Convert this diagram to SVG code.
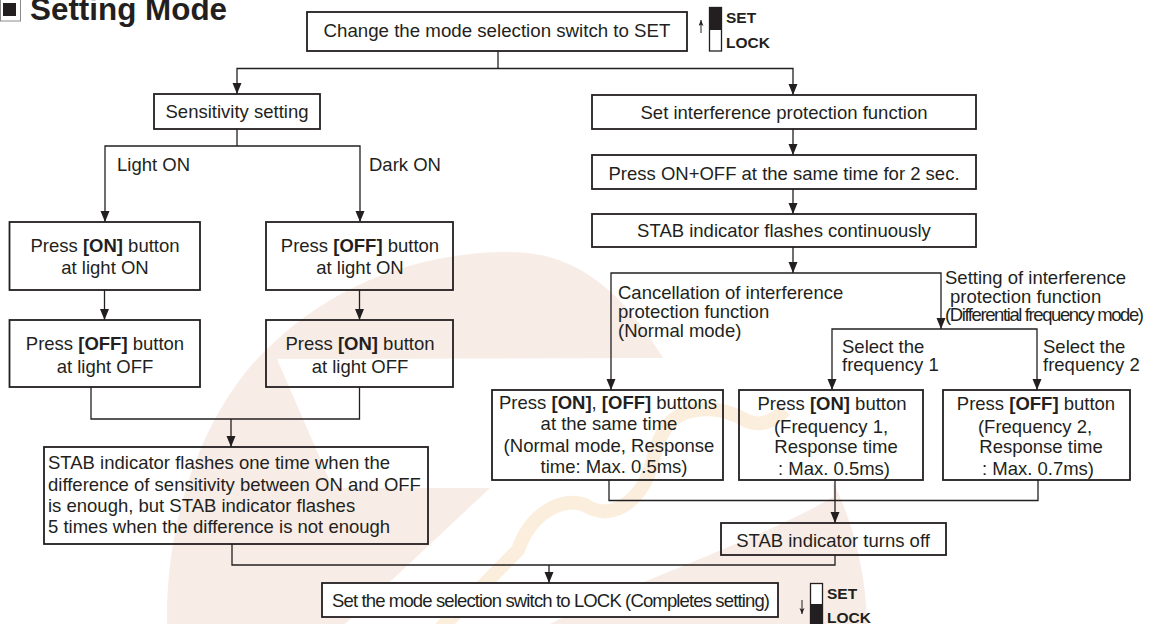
<svg xmlns="http://www.w3.org/2000/svg" width="1154" height="624" viewBox="0 0 1154 624">
<style>
text{font-family:"Liberation Sans",Arial,sans-serif;font-size:18.5px;fill:#231f20}
.c{text-anchor:middle}
.b{font-weight:bold}
.sw{font-weight:bold;font-size:15.5px}
.box{fill:none;stroke:#231f20;stroke-width:1.8}
.wh{fill:#fff}
.k{fill:none;stroke:#231f20;stroke-width:1.3}
.t{fill:none;stroke:#231f20;stroke-width:1}
.w{fill:#f8ece6;stroke:none}
</style>
<defs>
<marker id="a" markerUnits="userSpaceOnUse" markerWidth="12" markerHeight="10" refX="11" refY="4.500" orient="auto"><path d="M0,0L11,4.500L0,9Z" fill="#231f20"/></marker>
<marker id="s" markerUnits="userSpaceOnUse" markerWidth="7" markerHeight="6" refX="6" refY="2.500" orient="auto"><path d="M0,0L6,2.500L0,5L1.500,2.500Z" fill="#231f20"/></marker>
</defs>
<rect width="1154" height="624" fill="#fff"/>
<g id="watermark">
<path class="w" d="M167,624C165,500 215,400 263,353C320,295 400,255 500,252C560,250 610,272 663,358L277,359L333,488L490,488L345,624Z"/>
<path class="w" d="M833,482C852,520 866,570 867,624L550,624C640,580 770,535 833,497Z"/>
<path d="M437,632L518,550C532,510 565,497 585,505C605,518 625,510 640,490C655,470 652,445 668,425C685,405 720,405 745,420C760,428 775,420 785,410" fill="none" stroke="#fbeedd" stroke-width="14"/>
</g>
<g id="title"><rect x="0.5" y="-1" width="20" height="22" fill="#fff" stroke="#8a8a8a" stroke-width="1"/><rect x="3" y="3" width="13" height="13" fill="#231f20"/><text class="b" x="30" y="20" style="font-size:31.4px">Setting Mode</text></g>
<g id="connectors">
<path class="k" d="M498,51V68.500"/>
<path class="k" marker-end="url(#a)" d="M498,68.500H237V94"/>
<path class="k" marker-end="url(#a)" d="M498,68.500H793V95"/>
<path class="k" d="M237,129V146"/>
<path class="k" marker-end="url(#a)" d="M237,146H105V222"/>
<path class="k" marker-end="url(#a)" d="M237,146H360V222"/>
<path class="k" marker-end="url(#a)" d="M104.500,290V320"/>
<path class="k" marker-end="url(#a)" d="M359.500,290V320"/>
<path class="k" d="M91,387V419H359.500V387"/>
<path class="k" marker-end="url(#a)" d="M231,419V447"/>
<path class="k" marker-end="url(#a)" d="M793,129V155"/>
<path class="k" marker-end="url(#a)" d="M793,189V214"/>
<path class="k" marker-end="url(#a)" d="M793,247V273"/>
<path class="k" marker-end="url(#a)" d="M793,273H611V390"/>
<path class="k" marker-end="url(#a)" d="M793,273H941V329"/>
<path class="k" marker-end="url(#a)" d="M941,329H832V390"/>
<path class="k" marker-end="url(#a)" d="M941,329H1037V390"/>
<path class="k" d="M609,480V500.500H1038V480"/>
<path class="k" marker-end="url(#a)" d="M835,480V523"/>
<path class="k" d="M835,555V565H232V544"/>
<path class="k" marker-end="url(#a)" d="M549,565V583"/>
<path class="t" marker-end="url(#s)" d="M701,33V20"/>
<path class="t" marker-end="url(#s)" d="M802,600V614"/>
</g>
<g id="n-top"><rect class="box" x="307" y="12" width="380" height="39"/><text class="c" x="497" y="37" style="font-size:18.7px">Change the mode selection switch to SET</text></g>
<g id="sw-set"><rect x="709.500" y="7.500" width="12" height="43.500" fill="#fff" stroke="#231f20" stroke-width="1.300"/><rect x="709" y="7" width="13" height="23" fill="#231f20"/><text class="sw" x="726" y="23">SET</text><text class="sw" x="726" y="48">LOCK</text></g>
<g id="n-sens"><rect class="box" x="154" y="94" width="166" height="35"/><text class="c" x="237" y="118">Sensitivity setting</text></g>
<g id="l-light"><text x="117" y="171">Light ON</text></g>
<g id="l-dark"><text x="369" y="171">Dark ON</text></g>
<g id="n-l1"><rect class="box" x="9.500" y="222" width="190.500" height="68"/><text class="c" x="105" y="252">Press <tspan class="b">[ON]</tspan> button</text><text class="c" x="105" y="274">at light ON</text></g>
<g id="n-l2"><rect class="box" x="9.500" y="320" width="190.500" height="67"/><text class="c" x="105" y="350">Press <tspan class="b">[OFF]</tspan> button</text><text class="c" x="105" y="373">at light OFF</text></g>
<g id="n-r1"><rect class="box" x="266" y="222" width="187" height="68"/><text class="c" x="360" y="252">Press <tspan class="b">[OFF]</tspan> button</text><text class="c" x="360" y="274">at light ON</text></g>
<g id="n-r2"><rect class="box" x="266" y="320" width="187" height="67"/><text class="c" x="360" y="350">Press <tspan class="b">[ON]</tspan> button</text><text class="c" x="360" y="373">at light OFF</text></g>
<g id="n-stab"><rect class="box" x="44" y="447" width="384" height="97"/><text x="48" y="469">STAB indicator flashes one time when the</text><text x="48" y="491">difference of sensitivity between ON and OFF</text><text x="48" y="512">is enough, but STAB indicator flashes</text><text x="48" y="533">5 times when the difference is not enough</text></g>
<g id="n-if1"><rect class="box" x="592" y="95" width="384" height="34"/><text class="c" x="784" y="119">Set interference protection function</text></g>
<g id="n-if2"><rect class="box" x="592" y="155" width="384" height="34"/><text class="c" x="784" y="180">Press ON+OFF at the same time for 2 sec.</text></g>
<g id="n-if3"><rect class="box" x="592" y="214" width="384" height="33"/><text class="c" x="784" y="237">STAB indicator flashes continuously</text></g>
<g id="l-cancel"><text x="618" y="299">Cancellation of interference</text><text x="618" y="318">protection function</text><text x="618" y="337">(Normal mode)</text></g>
<g id="l-setting"><text x="945" y="284">Setting of interference</text><text x="950" y="303">protection function</text><text x="945" y="321" textLength="199" lengthAdjust="spacing">(Differential frequency mode)</text></g>
<g id="l-f1"><text x="842" y="353">Select the</text><text x="842" y="371">frequency 1</text></g>
<g id="l-f2"><text x="1043" y="353">Select the</text><text x="1043" y="371">frequency 2</text></g>
<g id="n-b1"><rect class="box" x="492" y="390" width="231" height="90"/><text class="c" x="608" y="409">Press <tspan class="b">[ON]</tspan>, <tspan class="b">[OFF]</tspan> buttons</text><text class="c" x="609" y="430">at the same time</text><text class="c" x="609" y="452">(Normal mode, Response</text><text class="c" x="614" y="473">time: Max. 0.5ms)</text></g>
<g id="n-b2"><rect class="box" x="739" y="390" width="184" height="90"/><text class="c" x="832" y="410">Press <tspan class="b">[ON]</tspan> button</text><text class="c" x="831" y="433">(Frequency 1,</text><text class="c" x="836" y="453">Response time</text><text class="c" x="834" y="475">: Max. 0.5ms)</text></g>
<g id="n-b3"><rect class="box" x="943" y="390" width="187" height="90"/><text class="c" x="1036" y="410">Press <tspan class="b">[OFF]</tspan> button</text><text class="c" x="1035" y="433">(Frequency 2,</text><text class="c" x="1041" y="453">Response time</text><text class="c" x="1038" y="475">: Max. 0.7ms)</text></g>
<g id="n-off"><rect class="box" x="721" y="523" width="225" height="32"/><text class="c" x="833" y="547">STAB indicator turns off</text></g>
<g id="n-lock"><rect class="box wh" x="322" y="583" width="456" height="34"/><text x="332" y="607" textLength="438" lengthAdjust="spacing">Set the mode selection switch to LOCK (Completes setting)</text></g>
<g id="sw-lock"><rect x="810.500" y="583.500" width="12" height="41" fill="#fff" stroke="#231f20" stroke-width="1.300"/><rect x="810" y="604" width="13" height="20" fill="#231f20"/><text class="sw" x="827" y="599">SET</text><text class="sw" x="827" y="623">LOCK</text></g>
</svg>
